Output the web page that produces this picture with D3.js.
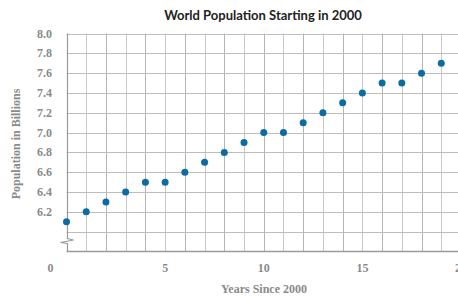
<!DOCTYPE html>
<html>
<head>
<meta charset="utf-8">
<script src="https://cdn.jsdelivr.net/npm/d3@7"></script>
<style>
  body { margin: 0; background: #fff; }
  .tick-label { font-family: "Liberation Serif", serif; font-weight: bold; font-size: 12px; fill: #8a8a8a; }
  .axis-title { font-family: "Liberation Serif", serif; font-weight: bold; font-size: 12px; fill: #8a8a8a; }
  .title { font-family: "Lato", sans-serif; font-weight: bold; font-size: 13px; fill: #222; }
</style>
</head>
<body>
<div id="chart"></div>
<script>
// years since 2000 and population (billions)
var years = [0, 1, 2, 3, 4, 5, 6, 7, 8, 9, 10, 11, 12, 13, 14, 15, 16, 17, 18, 19];
var population = [6.1, 6.2, 6.3, 6.4, 6.5, 6.5, 6.6, 6.7, 6.8, 6.9, 7.0, 7.0, 7.1, 7.2, 7.3, 7.4, 7.5, 7.5, 7.6, 7.7];
var xTicks = [0, 5, 10, 15, 20];
var yTicks = [6.2, 6.4, 6.6, 6.8, 7.0, 7.2, 7.4, 7.6, 7.8, 8.0];

var width = 458, height = 296;

var svg = d3.select("#chart")
  .append("svg")
  .attr("width", width)
  .attr("height", height);

var x = d3.scaleLinear().domain([0, 20]).range([66.5, 461]);
var y = d3.scaleLinear().domain([5.8, 8.0]).range([251.5, 33.5]);

// vertical grid
var gridX = d3.range(1, 21);
svg.append("g").selectAll("line")
  .data(gridX)
  .enter().append("line")
  .attr("x1", function(d) { return Math.round(x(d)) + 0.5 })
  .attr("x2", function(d) { return Math.round(x(d)) + 0.5 })
  .attr("y1", y(8.0))
  .attr("y2", y(5.8))
  .attr("stroke", function(d) { return d % 2 == 0 ? "#b5b5b5" : "#c8c8c8" })
  .attr("stroke-width", 1);

// horizontal grid
var gridY = d3.range(6.0, 8.01, 0.2);
svg.append("g").selectAll("line")
  .data(gridY)
  .enter().append("line")
  .attr("x1", x(0))
  .attr("x2", width)
  .attr("y1", function(d) { return Math.round(y(d)) + 0.5 })
  .attr("y2", function(d) { return Math.round(y(d)) + 0.5 })
  .attr("stroke", "#bdbdbd")
  .attr("stroke-width", 1);

// bottom axis line
svg.append("line")
  .attr("x1", x(0))
  .attr("x2", width)
  .attr("y1", y(5.8))
  .attr("y2", y(5.8))
  .attr("stroke", "#9a9a9a")
  .attr("stroke-width", 1.5);

// left axis with break
var ax = Math.round(x(0)) + 0.5;
svg.append("path")
  .attr("d", "M" + ax + "," + y(8.0) + " L" + ax + ",238.5 L" + (ax + 6) + ",240 L" + (ax - 7) + ",242.5 L" + ax + ",243.5 L" + ax + "," + y(5.8))
  .attr("fill", "none")
  .attr("stroke", "#9a9a9a")
  .attr("stroke-width", 1.2);

// y tick labels
svg.append("g").selectAll("text")
  .data(yTicks)
  .enter().append("text")
  .attr("class", "tick-label")
  .attr("x", 52)
  .attr("y", function(d) { return y(d) + 4 })
  .attr("text-anchor", "end")
  .text(function(d) { return d3.format(".1f")(d) });

// x tick labels (the 0 sits left of the origin)
svg.append("g").selectAll("text")
  .data(xTicks)
  .enter().append("text")
  .attr("class", "tick-label")
  .attr("x", function(d) { return d == 0 ? x(0) - 16 : x(d) })
  .attr("y", 272)
  .attr("text-anchor", "middle")
  .text(function(d) { return d });

// points
svg.append("g").selectAll("circle")
  .data(years)
  .enter().append("circle")
  .attr("cx", function(d) { return x(d) })
  .attr("cy", function(d, i) { return y(population[i]) })
  .attr("r", 3.5)
  .attr("fill", "#0b6ca3");

svg.append("text")
  .attr("class", "title")
  .attr("x", 263)
  .attr("y", 20)
  .attr("text-anchor", "middle")
  .text("World Population Starting in 2000");

svg.append("text")
  .attr("class", "axis-title")
  .attr("x", 264)
  .attr("y", 293)
  .attr("text-anchor", "middle")
  .text("Years Since 2000");

svg.append("text")
  .attr("class", "axis-title")
  .attr("text-anchor", "middle")
  .attr("transform", "translate(20,144)rotate(-90)")
  .text("Population in Billions");
</script>
</body>
</html>
